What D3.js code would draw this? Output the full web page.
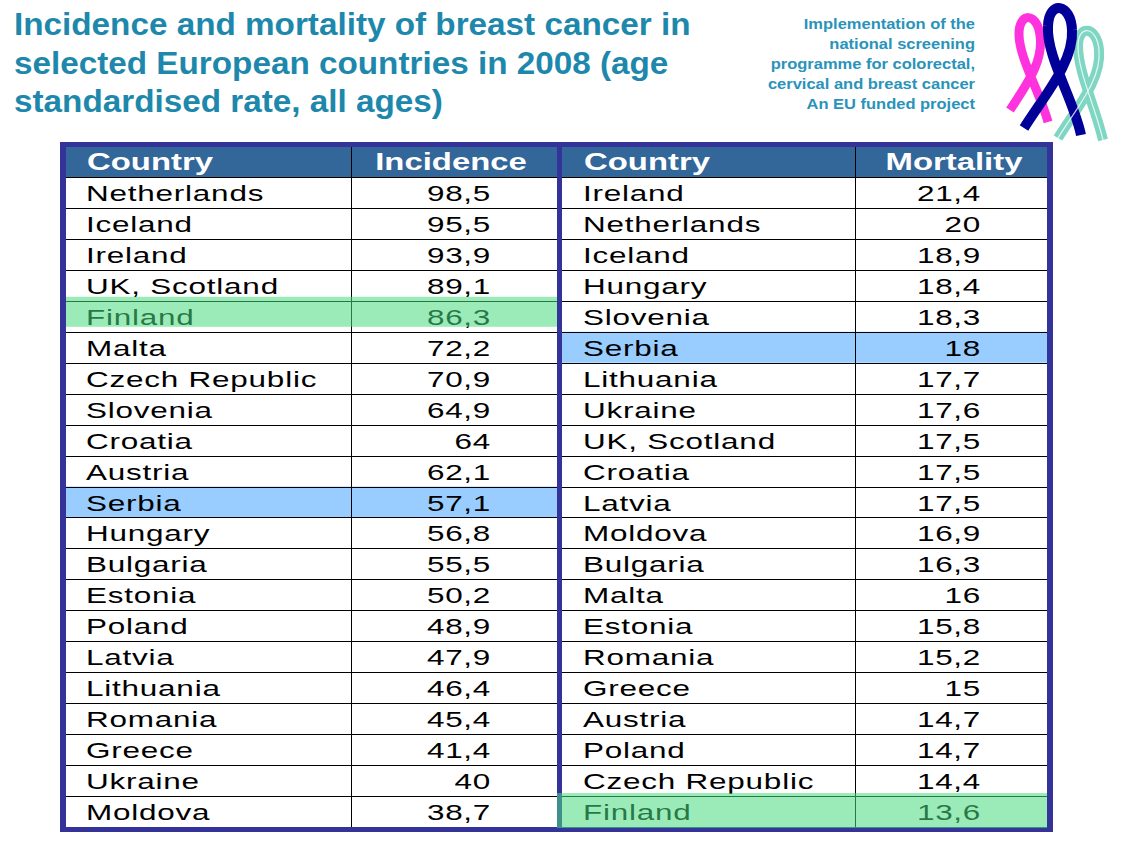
<!DOCTYPE html>
<html>
<head>
<meta charset="utf-8">
<script src="https://cdn.jsdelivr.net/npm/d3@7"></script>
<style>
  html, body { margin: 0; padding: 0; background: #ffffff; }
  svg { display: block; }
</style>
</head>
<body>
<div id="chart"></div>
<script>
// ---------------- DATA ----------------
const titleLines = [
  "Incidence and mortality of breast cancer in",
  "selected European countries in 2008 (age",
  "standardised rate, all ages)"
];
const projectLines = [
  "Implementation of the",
  "national screening",
  "programme for colorectal,",
  "cervical and breast cancer",
  "An EU funded project"
];
const incidenceHeader = ["Country", "Incidence"];
const incidenceCountries = ["Netherlands","Iceland","Ireland","UK, Scotland","Finland","Malta","Czech Republic","Slovenia","Croatia","Austria","Serbia","Hungary","Bulgaria","Estonia","Poland","Latvia","Lithuania","Romania","Greece","Ukraine","Moldova"];
const incidenceValues = [98.5,95.5,93.9,89.1,86.3,72.2,70.9,64.9,64,62.1,57.1,56.8,55.5,50.2,48.9,47.9,46.4,45.4,41.4,40,38.7];
const mortalityHeader = ["Country", "Mortality"];
const mortalityCountries = ["Ireland","Netherlands","Iceland","Hungary","Slovenia","Serbia","Lithuania","Ukraine","UK, Scotland","Croatia","Latvia","Moldova","Bulgaria","Malta","Estonia","Romania","Greece","Austria","Poland","Czech Republic","Finland"];
const mortalityValues = [21.4,20,18.9,18.4,18.3,18,17.7,17.6,17.5,17.5,17.5,16.9,16.3,16,15.8,15.2,15,14.7,14.7,14.4,13.6];
const blueCountry = "Serbia";
const greenCountry = "Finland";

// ---------------- LAYOUT ----------------
const W = 1122, H = 844;
const svg = d3.select("#chart").append("svg").attr("width", W).attr("height", H);

const purple = "#333399", headBlue = "#336699", lightBlue = "#99ccff";
const titleColor = "#1d88ab", projColor = "#2a93ba";

// Title
svg.append("g").selectAll("text").data(titleLines).join("text")
  .attr("transform", (d, i) => `translate(14,${35 + i * 38.5}) scale(1.04,1)`)
  .attr("font-family", "'Liberation Sans', Arial, sans-serif")
  .attr("font-weight", "bold").attr("font-size", 32)
  .attr("fill", titleColor).text(d => d);

// Project text
svg.append("g").selectAll("text").data(projectLines).join("text")
  .attr("transform", (d, i) => `translate(975,${29 + i * 20}) scale(1.1,1)`)
  .attr("text-anchor", "end")
  .attr("font-family", "'Liberation Sans', Arial, sans-serif")
  .attr("font-weight", "bold").attr("font-size", 15)
  .attr("fill", projColor).text(d => d);

// Logo ribbons
const logo = svg.append("g").attr("fill", "none").attr("stroke-linecap", "butt");
const ribbons = [
  {c: "#ff33dd", d: "M1010,110 C1026,85 1044,62 1040,35 C1037,12 1019,12 1019,34 C1019,58 1040,92 1048,122", w: 9},
  {c: "#7fd6c2", d: "M1058,138 C1075,110 1102,80 1099,50 C1097,26 1078,24 1078,46 C1078,72 1095,106 1103,140", w: 10},
  {c: "#000099", d: "M1024,128 C1044,96 1074,62 1072,30 C1071,3 1049,0 1048,26 C1046,56 1074,100 1081,135", w: 10}
];
ribbons.forEach(r => {
  logo.append("path").attr("d", r.d).attr("stroke", r.c).attr("stroke-width", r.w);
});
logo.append("path").attr("d", ribbons[1].d).attr("stroke", "#ffffff").attr("stroke-width", 1.2).attr("opacity", 0.8);

// Table frame
const tTop = 147, headBottom = 177, tBottom = 827;
svg.append("rect").attr("x", 60).attr("y", 142).attr("width", 993).attr("height", 690).attr("fill", purple);

const tables = [
  {x0: 66, x1: 557, divider: 351, textX: 87, valX: 491, headValX: 451,
   header: incidenceHeader, countries: incidenceCountries, values: incidenceValues},
  {x0: 562, x1: 1047, divider: 855, textX: 584, valX: 981, headValX: 954,
   header: mortalityHeader, countries: mortalityCountries, values: mortalityValues}
];

const fmt = v => Number.isInteger(v) ? String(v) : d3.format(".1f")(v).replace(".", ",");
const sx = 1.43;

tables.forEach(t => {
  const g = svg.append("g");
  const y = d3.scaleBand().domain(d3.range(t.countries.length)).range([headBottom, tBottom]);
  g.append("rect").attr("x", t.x0).attr("y", tTop).attr("width", t.x1 - t.x0).attr("height", tBottom - tTop).attr("fill", "#ffffff");
  g.append("rect").attr("x", t.x0).attr("y", tTop).attr("width", t.x1 - t.x0).attr("height", headBottom - tTop).attr("fill", headBlue);
  // blue highlight
  g.selectAll("rect.hl").data(d3.range(t.countries.length).filter(i => t.countries[i] === blueCountry)).join("rect")
    .attr("class", "hl").attr("x", t.x0).attr("y", i => y(i)).attr("width", t.x1 - t.x0).attr("height", y.bandwidth())
    .attr("fill", lightBlue);
  // row lines
  g.selectAll("line.row").data(d3.range(t.countries.length)).join("line")
    .attr("class", "row").attr("x1", t.x0).attr("x2", t.x1)
    .attr("y1", i => Math.round(y(i)) + 0.5).attr("y2", i => Math.round(y(i)) + 0.5)
    .attr("stroke", "#000").attr("stroke-width", 1);
  g.append("line").attr("x1", t.divider + 0.5).attr("x2", t.divider + 0.5).attr("y1", tTop).attr("y2", tBottom)
    .attr("stroke", "#000").attr("stroke-width", 1);
  // header text
  g.append("text").attr("transform", `translate(${t.textX},170) scale(${sx},1)`)
    .attr("font-family", "'Liberation Sans', Arial, sans-serif").attr("font-weight", "bold")
    .attr("font-size", 23).attr("fill", "#fff").text(t.header[0]);
  g.append("text").attr("transform", `translate(${t.headValX},170) scale(${sx},1)`)
    .attr("text-anchor", "middle")
    .attr("font-family", "'Liberation Sans', Arial, sans-serif").attr("font-weight", "bold")
    .attr("font-size", 23).attr("fill", "#fff").text(t.header[1]);
  // body
  const rows = d3.range(t.countries.length);
  g.selectAll("text.c").data(rows).join("text").attr("class", "c")
    .attr("transform", i => `translate(${t.textX - 1},${y(i) + y.bandwidth() / 2 + 8.5}) scale(${sx},1)`)
    .attr("font-family", "'Liberation Sans', Arial, sans-serif").attr("font-size", 22)
    .attr("letter-spacing", 0.55).attr("fill", "#000").text(i => t.countries[i]);
  g.selectAll("text.v").data(rows).join("text").attr("class", "v")
    .attr("transform", i => `translate(${t.valX},${y(i) + y.bandwidth() / 2 + 8.5}) scale(${sx},1)`)
    .attr("text-anchor", "end")
    .attr("font-family", "'Liberation Sans', Arial, sans-serif").attr("font-size", 22)
    .attr("letter-spacing", 0.5).attr("fill", "#000").text(i => fmt(t.values[i]));
  t.y = y;
});

// Green overlays (semi-transparent, as placed on the slide)
const gi0 = incidenceCountries.indexOf(greenCountry);
const gi1 = mortalityCountries.indexOf(greenCountry);
const yL = tables[0].y, yR = tables[1].y;
svg.append("rect").attr("x", 66).attr("y", yL(gi0) - 4).attr("width", 491).attr("height", 30)
  .attr("fill", "rgb(73,218,127)").attr("opacity", 0.55);
svg.append("rect").attr("x", 557).attr("y", yR(gi1) - 3).attr("width", 490).attr("height", 35)
  .attr("fill", "rgb(73,218,127)").attr("opacity", 0.55);
</script>
</body>
</html>
